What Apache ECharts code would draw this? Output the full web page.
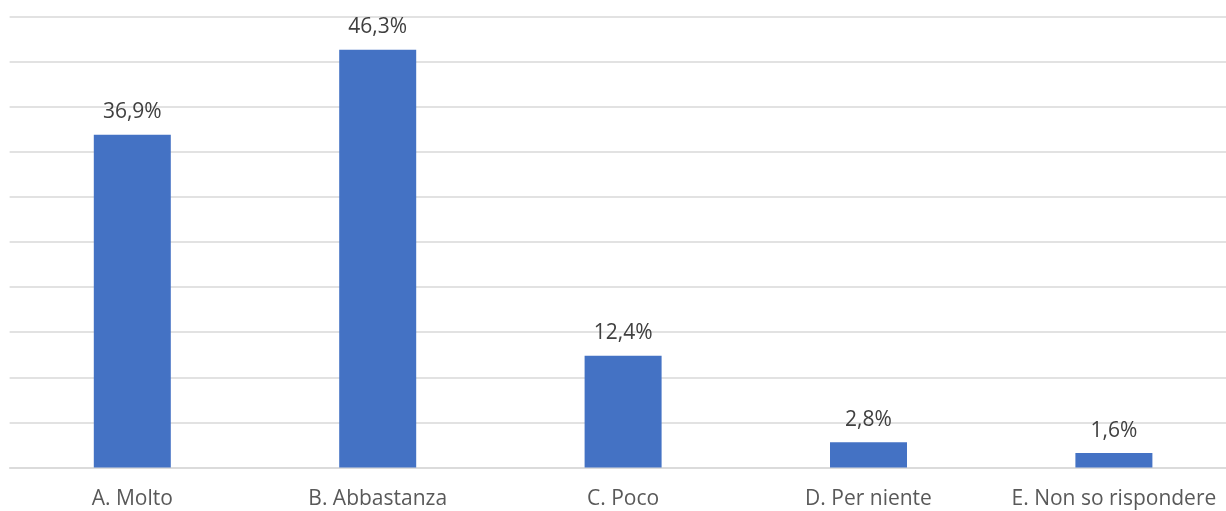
<!DOCTYPE html>
<html><head><meta charset="utf-8">
<script src="https://cdn.jsdelivr.net/npm/echarts@6/dist/echarts.min.js"></script>
<style>html,body{margin:0;padding:0;background:#fff;overflow:hidden}#c{width:1240px;height:511px}</style>
</head><body><div id="c"></div>
<script>
const categories = ["A. Molto", "B. Abbastanza", "C. Poco", "D. Per niente", "E. Non so rispondere"];
const values = [36.9, 46.3, 12.4, 2.8, 1.6];
const yMin = 0, yMax = 50, yInterval = 5;

const chart = echarts.init(document.getElementById('c'), null, {renderer: 'canvas'});
chart.setOption({
  animation: false,
  backgroundColor: '#ffffff',
  grid: {left: 9.6, top: 16.5, width: 1227, height: 451, containLabel: false},
  xAxis: {
    type: 'category', data: categories,
    axisLine: {lineStyle: {color: '#d9d9d9', width: 1.5}},
    axisTick: {show: false},
    axisLabel: {color: '#595959', fontSize: 21, fontFamily: 'Open Sans', margin: 21, interval: 0}
  },
  yAxis: {
    type: 'value', min: yMin, max: yMax, interval: yInterval,
    axisLabel: {show: false}, axisLine: {show: false}, axisTick: {show: false},
    splitLine: {lineStyle: {color: '#d9d9d9', width: 1.5}}
  },
  series: [{
    type: 'bar', data: values, barWidth: 77,
    itemStyle: {color: '#4472C4'},
    label: {show: true, position: 'top', distance: 12, color: '#404040', fontSize: 21, fontFamily: 'Open Sans',
      formatter: p => p.value.toFixed(1).replace('.', ',') + '%'}
  }]
});
</script></body></html>
